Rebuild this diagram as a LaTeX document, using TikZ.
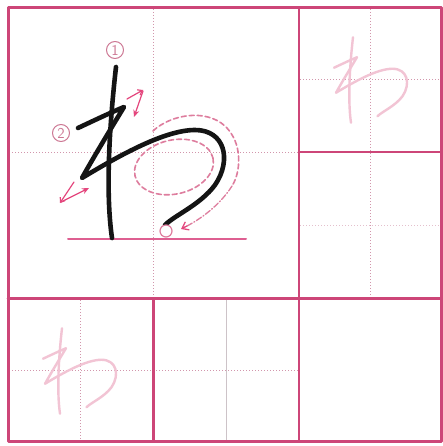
\documentclass[tikz,border=0pt]{standalone}
\usetikzlibrary{arrows.meta}
\definecolor{frame}{RGB}{205,70,120}
\definecolor{guide}{RGB}{210,150,172}
\definecolor{guidegray}{RGB}{205,195,200}
\definecolor{base}{RGB}{222,95,145}
\definecolor{trace}{RGB}{222,125,158}
\definecolor{arrowc}{RGB}{228,70,125}
\definecolor{ghost}{RGB}{242,196,212}
\definecolor{numc}{RGB}{205,120,148}
\definecolor{ink}{RGB}{20,20,20}
\newcommand\waStrokes[1]{%
  \draw[#1] (116,67) .. controls (110,120) and (105,190) .. (112,238);
  \draw[#1] (78,128) .. controls (95,120) and (112,112) .. (124,107)
    .. controls (110,130) and (92,160) .. (82,178)
    .. controls (120,155) and (165,130) .. (195,130)
    .. controls (225,130) and (232,160) .. (215,185)
    .. controls (200,205) and (175,215) .. (165,225);
}
\tikzset{
  dotg/.style={guide, line width=1pt, dash pattern=on 1pt off 2pt, line cap=butt},
  inkstroke/.style={ink, line width=4.6pt},
  ghoststroke/.style={ghost, line width=2.4pt},
  tracedash/.style={trace, line width=1.6pt, dash pattern=on 5pt off 3pt},
  turnarrow/.style={arrowc, line width=1.2pt},
  numnode/.style={circle, draw=numc, line width=1pt, minimum size=17pt, inner sep=0pt, text=numc, font=\sffamily\fontsize{15}{15}\selectfont},
  framethick/.style={frame, line width=3pt},
  framethin/.style={frame, line width=2.6pt}
}
\begin{document}
\begin{tikzpicture}[x=1pt,y=-1pt,line cap=round,line join=round]
\useasboundingbox (0,0) rectangle (443,446);
\fill[white] (0,0) rectangle (443,446);
% guide lines
\draw[dotg] (153.5,9) -- (153.5,297);
\draw[dotg] (9,153) -- (298,153);
\draw[dotg] (370,9) -- (370,297);
\draw[dotg] (300,80) -- (440,80);
\draw[dotg, guide!60] (300,225) -- (440,225);
\draw[dotg] (80.5,300) -- (80.5,440);
\draw[dotg] (9,370) -- (298,370);
\draw[guidegray, line width=0.8pt] (226,300) -- (226,440);
% ghost characters
\begin{scope}[shift={(299,7.5)}, scale=0.5, shift={(-8,-7.5)}]
  \waStrokes{ghoststroke}
\end{scope}
\begin{scope}[shift={(8,298.5)}, scale=0.5, shift={(-8,-7.5)}]
  \waStrokes{ghoststroke}
\end{scope}
% trace guides
\draw[tracedash] (174,167) ellipse [x radius=40, y radius=27, rotate=13];
\draw[tracedash] (153,131) .. controls (170,115) and (205,108) .. (225,126)
  .. controls (243,143) and (241,172) .. (232,186);
\draw[trace, line width=1.3pt, dash pattern=on 6pt off 2pt on 1pt off 2pt]
  (232,186) .. controls (220,205) and (200,220) .. (183,228);
\draw[arrowc, line width=1.3pt, -{Straight Barb[length=6pt,width=9pt]}] (187,226) -- (181,229);
% baseline
\draw[base, line width=2pt] (68,239) -- (246,239);
% main character
\waStrokes{inkstroke}
\node[circle, draw=trace, fill=white, line width=1.2pt, minimum size=12pt, inner sep=0pt] (endc) at (166,231) {};
% turn arrows
\draw[turnarrow, -{Straight Barb[length=4pt,width=6pt]}] (127,99) -- (143,90);
\draw[turnarrow, -{Stealth[length=7pt,width=6pt]}] (143,91) -- (134,117);
\draw[turnarrow, -{Straight Barb[length=4pt,width=6pt]}] (74,182) -- (60,203);
\draw[turnarrow, -{Stealth[length=7pt,width=6pt]}] (61,202) -- (89,188);
% stroke numbers
\node[numnode] (n1) at (115,50) {1};
\node[numnode] (n2) at (61,133) {2};
% frame
\draw[framethin] (299,7.5) -- (299,441);
\draw[framethin] (153.5,298.5) -- (153.5,441);
\draw[framethin] (8,298.5) -- (441.5,298.5);
\draw[framethin] (299,152) -- (441.5,152);
\draw[framethick] (8,7.5) rectangle (441.5,441);
\end{tikzpicture}
\end{document}
